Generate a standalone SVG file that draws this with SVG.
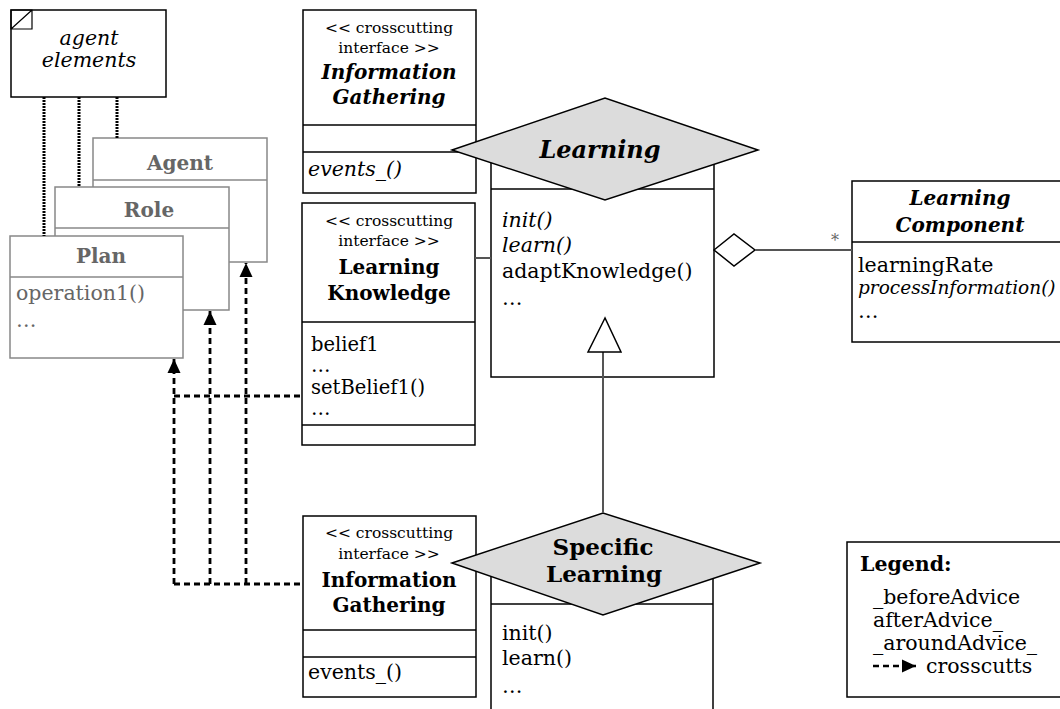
<svg xmlns="http://www.w3.org/2000/svg" width="1060" height="709" viewBox="0 0 1060 709">
<defs>
<style>
text{font-family:"DejaVu Serif","Liberation Serif",serif;fill:#000}
.box{fill:#fff;stroke:#000;stroke-width:1.5}
.gbox{fill:#fff;stroke:#888;stroke-width:1.5}
.div{stroke:#000;stroke-width:1.5}
.gdiv{stroke:#888;stroke-width:1.5}
.st{font-size:15.5px;text-anchor:middle}
.hd{font-size:20px;font-weight:bold;text-anchor:middle}
.hdi{font-size:20px;font-weight:bold;font-style:italic;text-anchor:middle}
.t{font-size:20.5px}
.ts{font-size:19.5px}
.ti{font-size:20.5px;font-style:italic}
.g{fill:#666}
.asp{fill:#dcdcdc;stroke:#000;stroke-width:1.5}
.dash{fill:none;stroke:#000;stroke-width:2.8;stroke-dasharray:6,4}
.dot{fill:none;stroke:#000;stroke-width:3;stroke-dasharray:2,1}
.ln{fill:none;stroke:#555;stroke-width:2}
</style>
<marker id="ah" markerUnits="userSpaceOnUse" markerWidth="16" markerHeight="16" viewBox="0 0 16 16" refX="14" refY="8" orient="auto">
<path d="M0,1.5 L14,8 L0,14.5 Z" fill="#000"/>
</marker>
</defs>

<g id="agent-elements">
<rect class="box" x="11" y="10" width="155" height="87"/>
<path d="M11,10 H32 V29 H11 Z M11,29 L32,10" fill="none" stroke="#000" stroke-width="1.2"/>
<text class="ti" x="89" y="45" text-anchor="middle">agent</text>
<text class="ti" x="89" y="67" text-anchor="middle">elements</text>
</g>

<g id="agent">
<rect class="gbox" x="93" y="138" width="174" height="124"/>
<line class="gdiv" x1="93" y1="180" x2="267" y2="180"/>
<text class="hd g" x="180" y="170">Agent</text>
</g>
<g id="role">
<rect class="gbox" x="55" y="187" width="174" height="123"/>
<line class="gdiv" x1="55" y1="228" x2="229" y2="228"/>
<text class="hd g" x="149" y="217">Role</text>
</g>
<g id="plan">
<rect class="gbox" x="10" y="236" width="173" height="122"/>
<line class="gdiv" x1="10" y1="277" x2="183" y2="277"/>
<text class="hd g" x="101" y="263">Plan</text>
<text class="t g" x="16" y="300">operation1()</text>
<text class="t g" x="16" y="327">…</text>
</g>

<g id="info-gathering-1">
<rect class="box" x="303" y="10" width="173" height="183"/>
<line class="div" x1="303" y1="125" x2="476" y2="125"/>
<line class="div" x1="303" y1="152" x2="476" y2="152"/>
<text class="st" x="389" y="33">&lt;&lt; crosscutting</text>
<text class="st" x="389" y="53">interface &gt;&gt;</text>
<text class="hdi" x="389" y="79">Information</text>
<text class="hdi" x="389" y="104">Gathering</text>
<text class="ti" x="308" y="176">events_()</text>
</g>

<g id="learning-knowledge">
<rect class="box" x="302" y="203" width="173" height="242"/>
<line class="div" x1="302" y1="322" x2="475" y2="322"/>
<line class="div" x1="302" y1="425" x2="475" y2="425"/>
<text class="st" x="389" y="226">&lt;&lt; crosscutting</text>
<text class="st" x="389" y="246">interface &gt;&gt;</text>
<text class="hd" x="389" y="274">Learning</text>
<text class="hd" x="389" y="300">Knowledge</text>
<text class="ts" x="311" y="351">belief1</text>
<text class="ts" x="311" y="372">…</text>
<text class="ts" x="311" y="394">setBelief1()</text>
<text class="ts" x="311" y="415">…</text>
</g>

<g id="learning">
<rect class="box" x="491" y="150" width="223" height="227"/>
<line class="div" x1="491" y1="189" x2="714" y2="189"/>
<polygon class="asp" points="452,150 605,98 758,150 605,200"/>
<text x="600" y="158" font-size="24" font-weight="bold" font-style="italic" text-anchor="middle">Learning</text>
<text class="ti" x="502" y="227">init()</text>
<text class="ti" x="502" y="252">learn()</text>
<text class="t" x="502" y="278">adaptKnowledge()</text>
<text class="t" x="502" y="305">…</text>
</g>

<g id="learning-component">
<rect class="box" x="852" y="181" width="220" height="161"/>
<line class="div" x1="852" y1="242" x2="1072" y2="242"/>
<text class="hdi" x="960" y="205">Learning</text>
<text class="hdi" x="960" y="232">Component</text>
<text class="t" x="858" y="272">learningRate</text>
<text x="858" y="294" font-size="18.5" font-style="italic">processInformation()</text>
<text class="t" x="858" y="318">…</text>
</g>

<g id="info-gathering-2">
<rect class="box" x="303" y="516" width="173" height="181"/>
<line class="div" x1="303" y1="630" x2="476" y2="630"/>
<line class="div" x1="303" y1="657" x2="476" y2="657"/>
<text class="st" x="389" y="538">&lt;&lt; crosscutting</text>
<text class="st" x="389" y="559">interface &gt;&gt;</text>
<text class="hd" x="389" y="587">Information</text>
<text class="hd" x="389" y="612">Gathering</text>
<text class="t" x="308" y="679">events_()</text>
</g>

<g id="specific-learning">
<rect class="box" x="491" y="563" width="222" height="160"/>
<line class="div" x1="491" y1="604" x2="713" y2="604"/>
<polygon class="asp" points="452,563 603,513 760,563 603,615"/>
<text x="603" y="555" font-size="23" font-weight="bold" text-anchor="middle">Specific</text>
<text x="604" y="582" font-size="23" font-weight="bold" text-anchor="middle">Learning</text>
<text class="t" x="502" y="640">init()</text>
<text class="t" x="502" y="665">learn()</text>
<text class="t" x="502" y="693">…</text>
</g>

<g id="legend">
<rect class="box" x="847" y="542" width="225" height="155"/>
<text x="860" y="571" font-size="20.5" font-weight="bold">Legend:</text>
<text class="t" x="873" y="604">_beforeAdvice</text>
<text class="t" x="873" y="627">afterAdvice_</text>
<text class="t" x="873" y="650">_aroundAdvice_</text>
<line x1="873" y1="666" x2="916" y2="666" stroke="#000" stroke-width="2.5" stroke-dasharray="6,4" marker-end="url(#ah)"/>
<text class="t" x="926" y="673">crosscutts</text>
</g>

<g id="connectors">
<line class="dot" x1="44" y1="97" x2="44" y2="236"/>
<line class="dot" x1="79" y1="97" x2="79" y2="187"/>
<line class="dot" x1="117" y1="97" x2="117" y2="138"/>
<line class="dash" x1="174" y1="584" x2="174" y2="359" marker-end="url(#ah)"/>
<line class="dash" x1="210" y1="584" x2="210" y2="311" marker-end="url(#ah)"/>
<line class="dash" x1="246" y1="584" x2="246" y2="263" marker-end="url(#ah)"/>
<line class="dash" x1="174" y1="396" x2="302" y2="396"/>
<line class="dash" x1="174" y1="584" x2="303" y2="584"/>
<line class="ln" x1="475" y1="258" x2="491" y2="258"/>
<polygon points="714,250 734,234 755,250 734,266" fill="#fff" stroke="#000" stroke-width="1.5"/>
<line class="ln" x1="755" y1="250" x2="852" y2="250"/>
<text x="835" y="246" font-size="16" text-anchor="middle" style="fill:#666">*</text>
<line class="ln" x1="603" y1="352" x2="603" y2="513"/>
<polygon points="605,318 588,352 621,352" fill="#fff" stroke="#000" stroke-width="1.5"/>
</g>
</svg>
